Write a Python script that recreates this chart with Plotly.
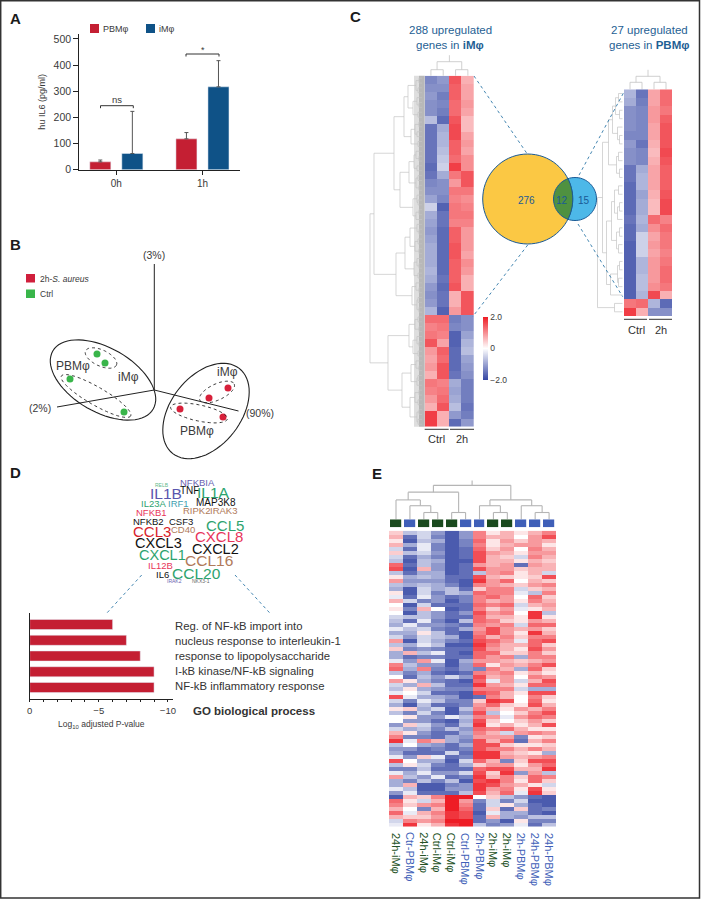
import plotly.graph_objects as go
import math

W, H = 701, 900
FONT = "Liberation Sans"
RED, BLUE = "#c41f33", "#0f5287"
TXT = "#3a3a3a"
SCALE = [[0, "#3546a4"], [0.5, "#ffffff"], [1, "#ee1c25"]]

# ---------- panel A
a_times = ["0h", "1h"]
a_pbm = [30, 118]
a_imac = [62, 317]
a_pbm_err = [7, 24]
a_imac_err = [161, 100]
a_ticks = [0, 100, 200, 300, 400, 500]

# ---------- panel B (PCA scores)
b_ctrl_x = [-58, -50, -85, -31]
b_ctrl_y = [31, 22, 6, -27]
b_stim_x = [73, 54, 25, 68]
b_stim_y = [-3, -13, -24, -32]

# ---------- panel C
c_left_col0 = [-1.3,-1.2,-1.1,-1.2,-1.2,-0.7,-1.5,-1.5,-1.5,-1.5,-1.5,-1.6,-1.5,-1.3,-1.2,-1.0,-0.5,-0.9,-1.0,-1.1,-1.0,-0.9,-0.9,-0.9,-0.8,-0.9,-1.1,-1.2,-1.1,-0.8,1.3,1.1,1.2,1.5,0.9,0.8,0.9,0.7,1.2,1.1,0.9,0.7,1.7,1.7]
c_left_col1 = [-1.1,-1.2,-1.4,-1.3,-1.4,-1.6,-0.9,-0.8,-0.8,-0.7,-0.6,-0.5,-0.9,-1.2,-1.2,-1.3,-1.7,-1.5,-1.5,-1.6,-1.6,-1.6,-1.6,-1.6,-1.6,-1.5,-1.6,-1.5,-1.5,-1.7,1.3,1.2,1.1,0.8,1.4,1.3,1.5,1.5,1.1,1.2,1.3,1.5,0.7,0.7]
c_left_col2 = [1.5,1.4,1.4,1.3,1.3,1.5,1.6,1.6,1.4,1.4,1.3,1.7,1.2,0.9,1.2,1.1,1.2,1.2,1.1,1.4,1.4,1.5,1.5,1.4,1.4,1.4,1.5,0.7,0.7,0.9,-1.4,-1.3,-1.7,-1.7,-1.6,-1.6,-1.6,-1.5,-0.9,-1.0,-0.9,-0.7,-1.1,-1.6]
c_left_col3 = [0.7,0.8,0.8,0.9,0.8,0.6,0.6,0.8,0.9,0.8,1.0,1.0,1.5,1.5,1.2,1.0,1.1,1.2,1.1,0.9,0.9,0.9,0.8,1.0,0.9,0.7,0.7,1.5,1.5,1.5,-1.2,-1.2,-1.0,-0.8,-0.7,-1.0,-1.1,-1.2,-1.4,-1.4,-1.4,-1.5,-1.4,-1.1]
c_right_col0 = [-0.8,-0.9,-1.2,-1.2,-1.2,-1.3,-1.1,-1.2,-1.2,-1.5,-1.5,-1.6,-1.6,-1.6,-1.6,-1.5,-1.6,-1.6,-1.7,-1.7,-1.7,-1.7,-1.7,-1.7,-1.7,1.2,1.7]
c_right_col1 = [-1.5,-1.4,-1.3,-1.3,-1.3,-1.3,-1.5,-1.3,-1.3,-0.9,-0.8,-0.8,-1.0,-0.9,-0.9,-0.8,-0.9,-0.5,-0.5,-0.5,-0.8,-0.8,-0.7,-0.7,-0.8,1.3,0.7]
c_right_col2 = [0.8,0.8,0.9,0.9,0.8,0.8,0.7,0.6,0.7,0.8,0.8,0.8,0.7,0.6,0.6,1.3,1.0,0.8,0.9,0.8,0.9,0.9,0.9,1.0,1.6,-0.8,-1.2]
c_right_col3 = [1.3,1.3,1.2,1.4,1.5,1.5,1.5,1.6,1.5,1.4,1.4,1.4,1.5,1.6,1.6,1.1,1.3,1.2,1.2,1.1,1.2,1.3,1.3,1.2,0.7,-1.6,-1.2]
c_left_tree = [3,6,4,14,5,3,9,4,18,3,7,5,11,4,28,6,3,8,5,13,4,6,3,22,5,4,9,3,6,48,5,3,12,4,7,3,17,5,3,8,4,26,6,3,10,4,5,3,52,
               4,7,3,13,5,3,9,4,34,6,3,11,4,5,20,3,7,4,12,3,5,4]
c_right_tree = [4,7,3,10,5,3,14,4,6,3,20,4,8,3,5,11,3,6,4,16,3,5,4,12,25,8]
c_left_top = [6, 14, 6]
c_right_top = [7, 13, 7]
venn_counts = ["276", "12", "15"]

# ---------- panel D
d_terms = ["NF-kB inflammatory response", "I-kB kinase/NF-kB signaling",
           "response to lipopolysaccharide", "nucleus response to interleukin-1",
           "Reg. of NF-kB import into"]
d_values = [-9, -9, -8, -7, -6]
cloud_words = ["RELB","NFKBIA","IL1B","TNF","IL1A","IL23A","IRF1","MAP3K8","RIPK2","IRAK3","NFKB1","NFKB2","CSF3",
               "CCL5","CCL3","CD40","CXCL8","CXCL3","CXCL2","CXCL1","CCL16","IL12B","IL6","CCL20","IRAK2","NKX3-1"]
cloud_x = [162,197.7,165.7,189,213.3,153.3,178.3,216,196.7,223.3,151.7,148.3,181,225,151.7,183.3,219.3,158.3,215,162.7,209.3,160,162.7,196,174,201]
cloud_y = [485,482.7,493,490.7,492.7,503,503,502.7,510.7,510.7,512.3,521.7,521.7,525,531.7,529.3,536.7,542.7,549,555,560.7,565.7,574,573.3,581,581]
cloud_size = [5,9.5,15.5,10,15.5,9.5,9.5,10,9.5,9.5,9.5,9.5,9.5,15,15,9.5,15,14.5,14.5,14.5,15.5,9.5,9.5,15.5,5,5]
cloud_color = ["#62b88c","#6a5fb0","#5a55ae","#111111","#2da36e","#2da36e","#3fa0b0","#111111","#b07a5a","#b07a5a","#e8345a","#111111","#111111",
               "#2da36e","#d8222a","#b07a5a","#e8345a","#111111","#111111","#2da36e","#b07a5a","#e8345a","#111111","#2da36e","#6a5fb0","#666666"]

# ---------- panel E
e_samples = ["24h-iMφ","Ctr-PBMφ","24h-iMφ","Ctrl-iMφ","Ctrl-iMφ","Ctrl-PBMφ","2h-PBMφ","2h-iMφ","2h-iMφ","2h-PBMφ","24h-PBMφ","24h-PBMφ"]
e_is_pbm = [0,1,0,0,0,1,1,0,0,1,1,1]
e_tree = [20,14,7,28,7,35,14,7,20,14,7]
e_rows = [
[2,-3,-2,-5,-8,-5,5,1,3,1,3,5],[3,-7,-2,-6,-8,-5,5,3,3,0,4,7],[1,-8,-3,-4,-8,-6,6,1,4,2,4,3],[3,-4,-1,-6,-8,-6,5,1,3,4,4,1],
[-2,-7,-1,-6,-8,-7,6,2,4,0,5,3],[2,-3,-2,-5,-8,-7,7,4,3,1,4,4],[-2,-7,-4,-6,-8,-7,7,3,2,-2,5,3],[-3,-8,-3,-4,-8,-8,7,3,3,1,3,2],
[6,-7,-3,-5,-8,-7,4,3,4,-7,4,3],[7,-8,3,-5,-8,-7,7,4,4,2,3,3],[-3,-7,-4,-4,-8,-7,-3,4,5,1,3,-2],[1,-4,-3,-4,-7,-7,7,3,2,1,2,7],
[4,-5,-5,-5,-7,-8,8,4,6,0,3,2],[-3,-4,-3,-4,-6,-8,5,4,3,2,4,5],[-4,-8,-2,-4,-3,-7,2,5,5,-2,2,3],[1,-8,-2,-6,-3,-4,6,5,5,-1,-3,5],
[-1,-7,-1,-5,-7,-6,5,6,4,0,6,2],[3,-2,-6,-5,-8,-6,5,3,4,1,5,3],[0,-8,-2,-7,-7,-7,6,5,6,-2,3,4],[1,-6,3,0,-8,-7,5,2,4,-1,1,3],
[0,-8,-3,-5,-7,-5,7,4,5,0,8,-3],[-2,-3,-3,-5,-7,-7,6,3,3,1,8,1],[-3,-7,-1,-6,-8,-3,6,5,2,1,4,3],[-4,-1,-5,-5,-6,-7,5,4,5,-2,6,6],
[-1,-3,-2,-6,-7,-4,4,7,4,3,4,2],[-4,-4,1,-3,-7,-8,5,7,4,1,8,3],[-2,-5,-2,-3,-4,-8,6,3,5,2,5,5],[4,-8,-2,-4,-6,-7,7,6,4,-1,6,7],
[-3,-4,-1,-3,-8,-8,8,5,3,3,6,2],[2,-6,-5,-6,-7,-7,7,4,3,1,7,4],[-4,3,-3,-1,-7,-8,6,6,2,2,5,2],[-4,-7,-6,-6,-7,-7,6,4,5,-4,5,5],
[-1,-5,4,-1,-8,-4,4,4,3,2,3,4],[5,-3,-5,-5,-8,-5,6,1,4,3,5,7],[6,-4,5,-6,-7,-5,-6,5,3,-4,6,2],[-3,-6,-4,-7,-8,-7,5,4,5,1,3,1],
[0,-7,-3,-5,-2,-5,7,3,4,0,5,4],[4,1,-4,-6,-7,-8,6,-1,4,-2,3,7],[-2,-4,3,-3,-7,-7,8,4,3,1,6,6],[-3,1,-4,-5,-6,-6,5,5,5,-2,-4,-4],
[-1,0,-2,-7,-7,-8,7,6,3,1,7,7],[7,-1,-4,-4,-5,-8,-7,5,3,0,5,2],[-2,-6,-1,-3,-6,-6,2,8,7,0,6,1],[-4,-8,-3,-7,-7,-6,4,6,2,1,7,3],
[1,2,-4,-2,-8,-3,5,3,1,4,3,5],[-3,-6,-2,-6,-8,-5,7,-3,0,2,5,7],[0,1,-5,-5,-1,-3,5,4,-1,4,6,5],[0,-5,-5,-7,-8,-4,7,2,0,2,4,2],
[-5,2,-2,-5,-7,-3,8,1,3,1,3,7],[-2,-4,-3,-6,-3,-5,6,5,6,3,1,1],[3,1,-5,-7,-7,-4,5,3,-2,4,5,4],[5,-6,-6,-7,-4,-5,4,4,4,-6,1,2],
[8,-1,5,3,-4,-6,7,3,6,-7,3,5],[-3,0,-4,-5,-7,-4,7,7,2,1,1,2],[-5,-5,-7,-6,-7,-6,7,5,5,3,5,3],[-4,-7,-7,-7,-2,-7,8,8,3,2,1,-4],
[-1,-5,2,-1,-7,-6,8,8,4,3,4,5],[7,0,-4,-4,-8,-2,6,3,-6,2,7,7],[-3,1,-2,-6,-7,-4,2,4,4,1,4,6],[-6,-6,-3,-7,-7,-7,6,7,7,3,3,8],
[-1,-4,-1,-5,-5,-2,7,2,8,-5,4,-3],[4,-3,-5,-1,-7,-6,8,3,5,2,6,5],[-4,-6,-3,-6,-3,-8,7,8,5,1,6,2],[-4,3,-8,-8,-6,-5,8,7,4,3,1,-2],
[-1,-3,-8,-8,-5,-5,8,4,5,1,7,1],[-5,-1,-7,-7,-7,-3,7,3,6,-1,8,2],[-8,3,2,5,9,9,0,2,-3,-5,-7,-8],[6,1,-2,3,9,4,-6,-2,-6,-2,-8,-8],
[5,2,4,5,9,5,-7,-2,1,-4,-7,-8],[3,0,-6,3,9,6,-7,2,-7,2,-7,-6],[6,-1,3,5,8,7,-8,-1,-4,-4,-7,-8],[3,2,2,4,8,7,-7,3,-4,-5,-3,-3],
[-2,5,4,5,9,9,-7,-5,-8,1,-6,-6],[-1,8,1,3,8,9,-3,-6,-5,-1,-7,-3],
]


def dx(a, b):
    return [a / W, b / W]


def dy(top, bottom):
    return [1 - bottom / H, 1 - top / H]


fig = go.Figure()
layout = dict(width=W, height=H, margin=dict(l=0, r=0, t=0, b=0, autoexpand=False), paper_bgcolor="white", plot_bgcolor="rgba(0,0,0,0)",
              showlegend=False, font=dict(family=FONT, color=TXT, size=10), bargap=0)
shapes, notes = [], []


def hidden(name, dom_x, dom_y, rx, ry):
    n = name
    layout[f"xaxis{n}"] = dict(domain=dom_x, range=rx, visible=False, fixedrange=True, anchor=f"y{n}")
    layout[f"yaxis{n}"] = dict(domain=dom_y, range=ry, visible=False, fixedrange=True, anchor=f"x{n}")


# page axis: pixel space for decoration (xaxis1/yaxis1)
hidden(1, [0, 1], [0, 1], [0, W], [H, 0])


def rect(x0, y0, x1, y1, fill, line=None, lw=0):
    shapes.append(dict(type="rect", xref="x", yref="y", x0=x0, y0=y0, x1=x1, y1=y1, fillcolor=fill,
                       line=dict(color=line or fill, width=lw), layer="below"))


def seg(x0, y0, x1, y1, color="#222222", lw=1.0, dash="solid"):
    shapes.append(dict(type="line", xref="x", yref="y", x0=x0, y0=y0, x1=x1, y1=y1, line=dict(color=color, width=lw, dash=dash)))


def text(x, y, s, size=10, color=TXT, anchor="center", family=FONT, angle=0, yanchor="middle"):
    notes.append(dict(x=x, y=y, xref="x", yref="y", text=s, showarrow=False, xanchor=anchor, yanchor=yanchor,
                      textangle=angle, font=dict(size=size, color=color, family=family), borderpad=0, borderwidth=0))


def ellipse(cx, cy, a, b, deg, color="#222222", lw=1.1, dash="solid"):
    t = math.radians(deg)
    pts = []
    for i in range(73):
        u = i * 2 * math.pi / 72
        pts.append((cx + a * math.cos(u) * math.cos(t) - b * math.sin(u) * math.sin(t),
                    cy + a * math.cos(u) * math.sin(t) + b * math.sin(u) * math.cos(t)))
    p = "M" + " L".join(f"{x:.1f},{y:.1f}" for x, y in pts) + " Z"
    shapes.append(dict(type="path", xref="x", yref="y", path=p, line=dict(color=color, width=lw, dash=dash)))


def dendro(gaps, place):
    """Cartesian tree of neighbour merge heights; place(pos, h) -> (x, y)."""
    xs, ys = [], []

    def rec(lo, hi):
        if lo == hi:
            return lo, 0.0
        k = max(range(lo, hi), key=lambda i: gaps[i])
        p1, h1 = rec(lo, k)
        p2, h2 = rec(k + 1, hi)
        h = gaps[k]
        for pos, hh in ((p1, h1), (p2, h2)):
            a, b = place(pos, hh), place(pos, h)
            xs.extend([a[0], b[0], None])
            ys.extend([a[1], b[1], None])
        a, b = place(p1, h), place(p2, h)
        xs.extend([a[0], b[0], None])
        ys.extend([a[1], b[1], None])
        return (p1 + p2) / 2, h

    root = rec(0, len(gaps))
    return xs, ys, root


def add_tree(gaps, place, color="#c4c4c4", lw=0.7, stem=0):
    xs, ys, (pos, h) = dendro(gaps, place)
    if stem:
        a, b = place(pos, h), place(pos, h + stem)
        xs += [a[0], b[0], None]
        ys += [a[1], b[1], None]
    fig.add_trace(go.Scatter(x=xs, y=ys, mode="lines", line=dict(color=color, width=lw), hoverinfo="skip", xaxis="x", yaxis="y"))


# frame and panel letters
shapes.append(dict(type="rect", xref="x", yref="y", x0=0.7, y0=0.7, x1=699.5, y1=898, line=dict(color="#333333", width=1.5)))
for s, x, y in [("A", 15, 18), ("B", 15, 244), ("C", 355, 16), ("D", 15, 472), ("E", 377, 473)]:
    text(x, y, f"<b>{s}</b>", size=15, color="#1a1a1a")

# ---------- A
fig.add_trace(go.Bar(x=a_times, y=a_pbm, marker_color=RED, width=0.244, name="PBMφ", xaxis="x2", yaxis="y2", offsetgroup="a",
                     error_y=dict(type="data", array=a_pbm_err, arrayminus=[0, 0], color="#555555", thickness=1, width=2)))
fig.add_trace(go.Bar(x=a_times, y=a_imac, marker_color=BLUE, width=0.244, name="iMφ", xaxis="x2", yaxis="y2", offsetgroup="b",
                     error_y=dict(type="data", array=a_imac_err, arrayminus=[0, 0], color="#555555", thickness=1, width=2)))
layout["barmode"] = "group"
layout["bargap"] = 0.256
layout["xaxis2"] = dict(domain=dx(79.3, 240), range=[-0.43, 1.436], anchor="y2", type="category", showline=True, linecolor="#222222", linewidth=1.2,
                        ticks="outside", ticklen=4, tickcolor="#222222", tickwidth=1, tickfont=dict(size=10, color=TXT), fixedrange=True, showgrid=False)
layout["yaxis2"] = dict(domain=dy(34, 169.7), range=[0, 519], anchor="x2", showline=True, linecolor="#222222", linewidth=1.2, tickvals=a_ticks,
                        ticks="outside", ticklen=5, tickcolor="#222222", tickwidth=1, tickfont=dict(size=10.5, color=TXT), fixedrange=True, showgrid=False, zeroline=False,
                        title=dict(text="hu IL6 (pg/ml)", font=dict(size=9, color=TXT), standoff=6))
rect(90, 24, 99, 33, RED)
rect(146, 24, 155, 33, BLUE)
text(103, 29, "PBMφ", 9, anchor="left")
text(159, 29, "iMφ", 9, anchor="left")
for (x0, x1, yy) in [(100.5, 133.3, 105.7), (186, 219, 54)]:
    shapes.append(dict(type="path", xref="x", yref="y", path=f"M{x0},{yy+2.5} L{x0},{yy} L{x1},{yy} L{x1},{yy+2.5}", line=dict(color="#333333", width=1)))
text(117, 99, "ns", 9.5)
text(202.5, 50, "*", 9)

# ---------- B
hidden(3, dx(40, 270), dy(340, 430), [-115, 115], [-45, 45])
fig.add_trace(go.Scatter(x=b_ctrl_x, y=b_ctrl_y, mode="markers", name="Ctrl", marker=dict(color="#39b54a", size=7), xaxis="x3", yaxis="y3"))
fig.add_trace(go.Scatter(x=b_stim_x, y=b_stim_y, mode="markers", name="2h-S. aureus", marker=dict(color="#d7203a", size=7), xaxis="x3", yaxis="y3"))
rect(26, 274, 35, 282.5, "#d01f3c")
rect(26, 289.5, 35, 298, "#39b54a")
text(40, 278.5, "2h-<i>S. aureus</i>", 8.5, anchor="left")
text(40, 293.7, "Ctrl", 8.5, anchor="left")
seg(154.3, 264, 154.3, 390)
seg(154.3, 390, 57, 407)
seg(154.3, 390, 238.5, 411)
text(154, 254.5, "(3%)", 10.5)
text(40, 408, "(2%)", 10.5)
text(259.5, 412.5, "(90%)", 10.5)
ellipse(103, 380, 58, 32, 30)
ellipse(206, 411, 54, 35, -52)
ellipse(101, 358, 17, 8, 25, lw=0.9, dash="dot")
ellipse(96, 396, 40, 9, 30, lw=0.9, dash="dot")
ellipse(217, 392, 19, 8, -25, lw=0.9, dash="dot")
ellipse(199, 413, 29, 8, 12, lw=0.9, dash="dot")
text(72.5, 366, "PBMφ", 12)
text(128.5, 377, "iMφ", 12)
text(227, 372, "iMφ", 12)
text(197, 431, "PBMφ", 12)

# ---------- C
c_left = [list(r) for r in zip(c_left_col0, c_left_col1, c_left_col2, c_left_col3)]
c_right = [list(r) for r in zip(c_right_col0, c_right_col1, c_right_col2, c_right_col3)]
hidden(4, dx(424.7, 474), dy(75.7, 426.7), [-0.5, 3.5], [len(c_left) - 0.5, -0.5])
fig.add_trace(go.Heatmap(z=c_left, colorscale=SCALE, zmin=-2, zmax=2, xaxis="x4", yaxis="y4", hoverinfo="skip",
                         colorbar=dict(x=482.7 / W, xanchor="left", y=1 - 380 / H, yanchor="bottom", len=63.3 / H, lenmode="fraction", thickness=4.5,
                                       thicknessmode="pixels", outlinewidth=0, xpad=0, ypad=0, tickvals=[-2, 0, 2], ticktext=["−2.0", "0", "2.0"],
                                       ticks="", ticklabelposition="outside", tickfont=dict(size=8.5, color=TXT))))
hidden(5, dx(624, 672), dy(89.3, 316), [-0.5, 3.5], [len(c_right) - 0.5, -0.5])
fig.add_trace(go.Heatmap(z=c_right, colorscale=SCALE, zmin=-2, zmax=2, showscale=False, xaxis="x5", yaxis="y5", hoverinfo="skip"))

# dendrograms of C
rect(414, 75.7, 419, 426.7, "#dedede")
rect(419, 75.7, 424.7, 426.7, "#b8b8b8")
row_h = 351 / 72
add_tree(c_left_tree, lambda p, h: (422 - h, 75.7 + (p + 0.5) * row_h))
add_tree(c_right_tree, lambda p, h: (622.5 - h, 89.3 + (p + 0.5) * 226.7 / 27))
add_tree(c_left_top, lambda p, h: (430.9 + p * 12.33, 75.7 - h), stem=6.5, lw=0.8)
add_tree(c_right_top, lambda p, h: (630 + p * 12, 89.3 - h), stem=6.5, lw=0.8)

text(450, 30, "288 upregulated", 11.5, "#1f5f94")
text(450, 45, "genes in <b>iMφ</b>", 11.5, "#1f5f94")
text(649, 30, "27 upregulated", 11.5, "#1f5f94")
text(649, 45, "genes in <b>PBMφ</b>", 11.5, "#1f5f94")
for x0, x1, y0 in [(424.7, 448.7, 429.3), (450, 474, 429.3), (624, 647, 319.3), (649, 672, 319.3)]:
    seg(x0, y0, x1, y0, "#333333", 1)
text(436.7, 439, "Ctrl", 11, "#333333")
text(462, 439, "2h", 11, "#333333")
text(636, 329.5, "Ctrl", 11, "#333333")
text(660.5, 329.5, "2h", 11, "#333333")
for x0, y0, x1, y1 in [(474, 76, 527.3, 154), (527.7, 245, 472.7, 316.7), (623.3, 93.3, 577.3, 178.3), (578, 224, 622.7, 296.7)]:
    seg(x0, y0, x1, y1, "#2f78a8", 0.9, "dot")

# Venn
VC = "#1a5a96"
vx1, vr1, vx2, vr2, vy = 527.7, 45, 575, 21.5, 199
ellipse(vx2, vy, vr2, vr2, 0, VC, 1)
shapes[-1]["fillcolor"] = "#4db8e8"
ellipse(vx1, vy, vr1, vr1, 0, VC, 1)
shapes[-1]["fillcolor"] = "#fbc844"
d = vx2 - vx1
xi = (d * d + vr1 * vr1 - vr2 * vr2) / (2 * d)
hh = math.sqrt(vr1 * vr1 - xi * xi)
a1 = math.atan2(hh, xi)
a2 = math.atan2(hh, xi - d)
p1 = [(vx1 + vr1 * math.cos(-a1 + 2 * a1 * i / 24), vy + vr1 * math.sin(-a1 + 2 * a1 * i / 24)) for i in range(25)]
p2 = [(vx2 + vr2 * math.cos(a2 + (2 * math.pi - 2 * a2) * i / 24), vy + vr2 * math.sin(a2 + (2 * math.pi - 2 * a2) * i / 24)) for i in range(25)]
shapes.append(dict(type="path", xref="x", yref="y", fillcolor="#4f9140", line=dict(color=VC, width=1),
                   path="M" + " L".join(f"{x:.1f},{y:.1f}" for x, y in p1 + p2) + " Z"))
text(526, 200, venn_counts[0], 10, VC)
text(562, 200, venn_counts[1], 10, VC)
text(584, 200, venn_counts[2], 10, VC)

# ---------- D
for w, x, y, s, c in zip(cloud_words, cloud_x, cloud_y, cloud_size, cloud_color):
    text(x, y, w, s, c)
seg(141.7, 575, 106, 614, "#2f78a8", 0.9, "dot")
seg(235, 575, 270.7, 614, "#2f78a8", 0.9, "dot")
fig.add_trace(go.Bar(y=list(range(5)), x=d_values, orientation="h", marker_color=RED, width=0.64, xaxis="x6", yaxis="y6"))
layout["xaxis6"] = dict(domain=dx(29.7, 173), range=[0, -10.37], anchor="y6", tickvals=list(range(0, -11, -1)),
                        ticktext=["0", " ", " ", " ", " ", "−5", " ", " ", " ", " ", "−10"], showline=True, linecolor="#222222", linewidth=1.2,
                        ticks="outside", ticklen=2.5, tickcolor="#222222", tickfont=dict(size=9.5, color=TXT), fixedrange=True, showgrid=False, zeroline=False,
                        title=dict(text="Log<sub>10</sub> adjusted P-value", font=dict(size=8.5, color=TXT), standoff=6))
layout["yaxis6"] = dict(domain=dy(613, 698.7), range=[-0.71, 4.73], anchor="x6", showline=True, linecolor="#222222", linewidth=1.2,
                        showticklabels=False, ticks="", fixedrange=True, showgrid=False, zeroline=False)
for i, t in enumerate(d_terms):
    text(175, 686 - i * 15, t, 11.3, "#333333", anchor="left")
text(193, 711, "<b>GO biological process</b>", 11.5, "#333333", anchor="left")

# ---------- E
n_e = len(e_rows)
hidden(7, dx(389, 556), dy(530.7, 826.7), [-0.5, 11.5], [n_e - 0.5, -0.5])
fig.add_trace(go.Heatmap(z=e_rows, colorscale=SCALE, zmin=-9, zmax=9, showscale=False, xaxis="x7", yaxis="y7", hoverinfo="skip"))
hidden(8, dx(389, 556), dy(519.3, 527.3), [-0.5, 11.5], [-0.5, 0.5])
fig.add_trace(go.Heatmap(z=[e_is_pbm], colorscale=[[0, "#1a4a1e"], [1, "#3f5fb8"]], zmin=0, zmax=1, xgap=2.8, showscale=False, xaxis="x8", yaxis="y8", hoverinfo="skip"))
add_tree(e_tree, lambda p, h: (396 + p * 167 / 12, 519.3 - h * 0.97), color="#b5b5b5", lw=1.1, stem=5)
for i, (s, pb) in enumerate(zip(e_samples, e_is_pbm)):
    text(396 + i * 167 / 12, 832.5, s, 11, "#3f5fb8" if pb else "#245226", angle=90, yanchor="top")

layout["shapes"] = shapes
layout["annotations"] = notes
fig.update_layout(**layout)
fig.write_html("out.html", config=dict(displayModeBar=False),
               post_script="document.body.style.margin='0';document.body.style.overflow='hidden';")
